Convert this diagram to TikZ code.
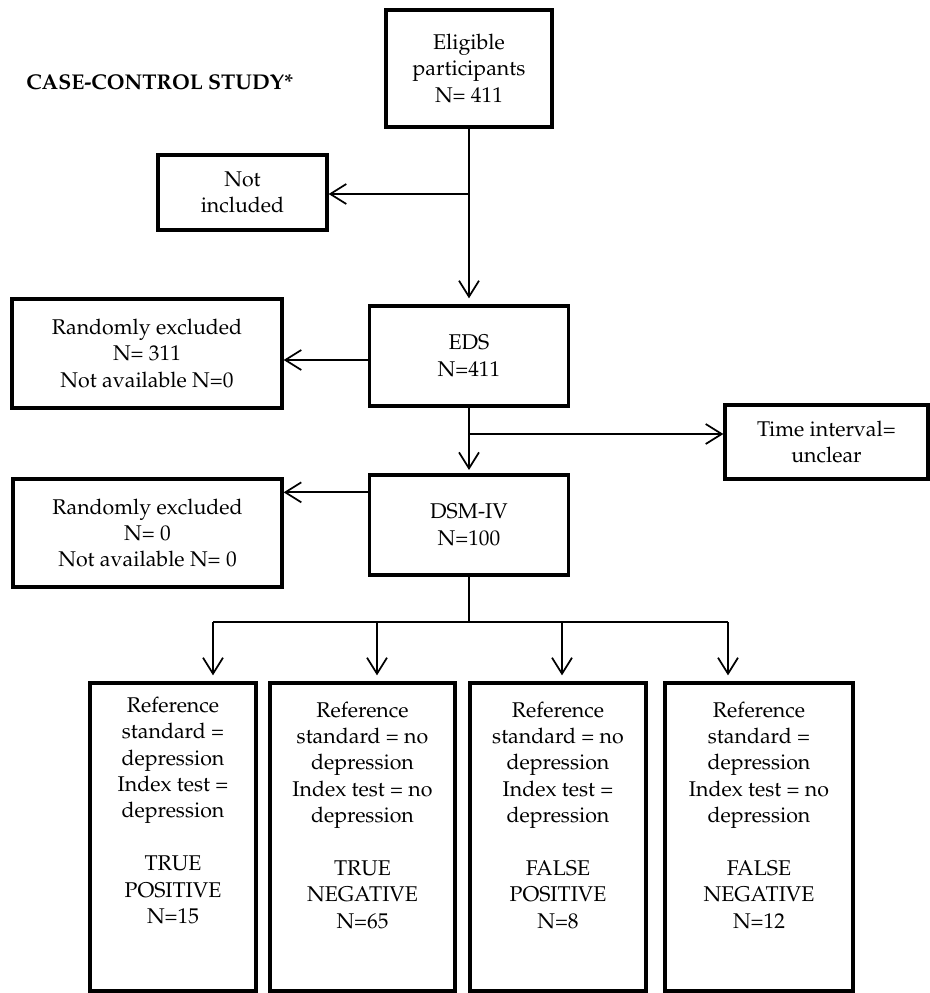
\documentclass[tikz,border=0pt]{standalone}
\usepackage[T1]{fontenc}
\usepackage{mathpazo}
\usetikzlibrary{arrows.meta}

\begin{document}
\begin{tikzpicture}[x=0.75pt,y=-0.75pt,
  every node/.style={font=\fontsize{16}{19.8}\selectfont},
  box/.style={draw, line width=2.5pt, inner sep=0pt, align=center},
  boxsize/.style 2 args={minimum width=#1*0.75pt, minimum height=#2*0.75pt},
  bodytext/.style={inner sep=0pt, align=center, anchor=north},
  link/.style={line width=1.3pt},
  arrow/.style={link, -{Straight Barb[length=12pt,width=15pt,line width=1.3pt]}},
]
\useasboundingbox (0,0) rectangle (930,993);

% heading
\node[font=\fontsize{16}{19.8}\selectfont\bfseries, anchor=west, inner sep=0pt] (title) at (26,82) {CASE-CONTROL STUDY*};

% main column
\node[box, boxsize={166}{117}] (elig) at (469,68.5) {Eligible\\participants\\N= 411};
\node[box, boxsize={199}{100}] (eds) at (469,356) {EDS\\N=411};
\node[box, boxsize={199}{100}] (dsm) at (469,525) {DSM-IV\\N=100};

% side boxes
\node[box, boxsize={169}{75}] (notinc) at (242.5,192.5) {Not\\included};
\node[box, boxsize={270}{109}] (rand1) at (147,353.5) {Randomly excluded\\N= 311\\Not available N=0};
\node[box, boxsize={203}{74}] (time) at (826.5,442) {Time interval=\\unclear};
\node[box, boxsize={269}{108}] (rand2) at (147.5,533) {Randomly excluded\\N= 0\\Not available N= 0};

% outcome boxes
\node[box, boxsize={166}{308}] (tp) at (173,837) {};
\node[box, boxsize={185}{308}] (tn) at (362.5,837) {};
\node[box, boxsize={176}{308}] (fp) at (558,837) {};
\node[box, boxsize={188}{308}] (fn) at (759,837) {};

\node[bodytext] (tp-text) at ([yshift=-11.5pt]tp.north)
  {Reference\\standard =\\depression\\Index test =\\depression\\[19.8pt]TRUE\\POSITIVE\\N=15};
\node[bodytext] (tn-text) at ([yshift=-15pt]tn.north)
  {Reference\\standard = no\\depression\\Index test = no\\depression\\[19.8pt]TRUE\\NEGATIVE\\N=65};
\node[bodytext] (fp-text) at ([yshift=-15pt]fp.north)
  {Reference\\standard = no\\depression\\Index test =\\depression\\[19.8pt]FALSE\\POSITIVE\\N=8};
\node[bodytext] (fn-text) at ([yshift=-15pt]fn.north)
  {Reference\\standard =\\depression\\Index test = no\\depression\\[19.8pt]FALSE\\NEGATIVE\\N=12};

% branching points
\coordinate (split1) at (469,194);
\coordinate (split2) at (469,434);
\coordinate (side1) at ([yshift=-3pt]eds.west);
\coordinate (side2) at ([yshift=-14.25pt]dsm.north west);
\coordinate (hub) at (469,622);
\coordinate (drop1) at (213,622);
\coordinate (drop2) at (377,622);
\coordinate (drop3) at (562,622);
\coordinate (drop4) at (728,622);

% connectors
\draw[arrow, shorten >=4.5pt] (elig) -- (eds);
\draw[arrow] (split1) -- (split1 -| notinc.east);
\draw[arrow] (side1) -- (side1 -| rand1.east);
\draw[arrow, shorten >=2.5pt] (eds) -- (dsm);
\draw[arrow] (split2) -- (split2 -| time.west);
\draw[arrow] (side2) -- (side2 -| rand2.east);
\draw[link] (dsm.south) -- (hub);
\draw[link] (drop1) -- (drop4);
\draw[arrow, shorten >=4.5pt] (drop1) -- (drop1 |- tp.north);
\draw[arrow, shorten >=4.5pt] (drop2) -- (drop2 |- tn.north);
\draw[arrow, shorten >=4.5pt] (drop3) -- (drop3 |- fp.north);
\draw[arrow, shorten >=4.5pt] (drop4) -- (drop4 |- fn.north);
\end{tikzpicture}
\end{document}
